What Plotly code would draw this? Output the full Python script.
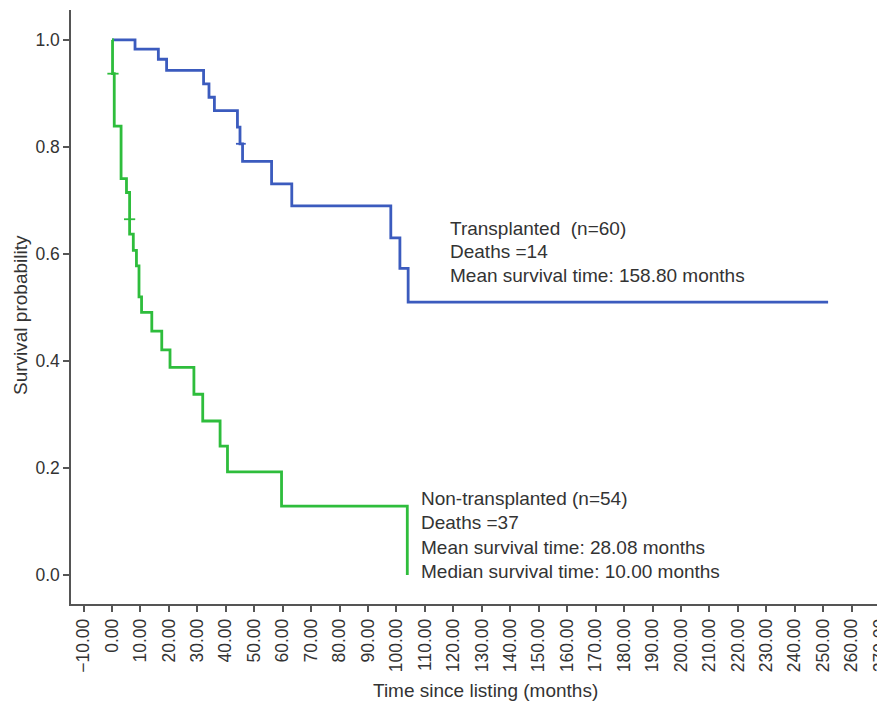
import plotly.graph_objects as go

# ---- data ----
tx_time = [0, 8.1, 16.3, 19.2, 32.2, 34.1, 36.0, 44.1, 45.0, 45.9, 56.1, 63.2, 98.0, 101.2, 104.1, 251.7]
tx_surv = [1.0, 0.983, 0.964, 0.943, 0.918, 0.893, 0.868, 0.837, 0.806, 0.773, 0.731, 0.690, 0.630, 0.573, 0.510, 0.510]
tx_cens_time = [45.3]
tx_cens_surv = [0.806]

ntx_time = [0, 0.2, 0.8, 3.2, 5.1, 6.2, 7.5, 8.6, 9.5, 10.4, 14.0, 17.5, 20.4, 28.8, 31.9, 38.0, 40.6, 59.6, 103.8]
ntx_surv = [1.0, 0.937, 0.839, 0.741, 0.715, 0.637, 0.607, 0.578, 0.520, 0.491, 0.456, 0.421, 0.388, 0.338, 0.288, 0.241, 0.193, 0.129, 0.0]
ntx_cens_time = [0.35, 6.2]
ntx_cens_surv = [0.937, 0.665]

x_tick_vals = list(range(-10, 280, 10))
x_tick_text = [("\u2212" if v < 0 else "") + f"{abs(v):.2f}" for v in x_tick_vals]
y_tick_vals = [0.0, 0.2, 0.4, 0.6, 0.8, 1.0]
y_tick_text = ["0.0", "0.2", "0.4", "0.6", "0.8", "1.0"]

tx_text = ["Transplanted  (n=60)", "Deaths =14", "Mean survival time: 158.80 months"]
ntx_text = ["Non-transplanted (n=54)", "Deaths =37", "Mean survival time: 28.08 months",
            "Median survival time: 10.00 months"]

BLUE = "#3B5BBE"
GREEN = "#2EBD3C"
TXT = "#333333"
FONT = "Liberation Sans, Arial, sans-serif"
ANN_SIZE = 19
TICK_SIZE = 17.5

fig = go.Figure()
fig.add_trace(go.Scatter(x=tx_time, y=tx_surv, mode="lines", line=dict(color=BLUE, width=2.8, shape="hv"),
                         showlegend=False, hoverinfo="skip"))
fig.add_trace(go.Scatter(x=ntx_time, y=ntx_surv, mode="lines", line=dict(color=GREEN, width=2.8, shape="hv"),
                         showlegend=False, hoverinfo="skip"))
fig.add_trace(go.Scatter(x=tx_cens_time, y=tx_cens_surv, mode="markers",
                         marker=dict(symbol="line-ew", size=7, line=dict(color=BLUE, width=1.8)),
                         showlegend=False, hoverinfo="skip"))
fig.add_trace(go.Scatter(x=ntx_cens_time, y=ntx_cens_surv, mode="markers",
                         marker=dict(symbol="line-ew", size=8, line=dict(color=GREEN, width=1.8)),
                         showlegend=False, hoverinfo="skip"))

ann = []
tx_y = [0.647, 0.604, 0.559]
for t, yy in zip(tx_text, tx_y):
    ann.append(dict(x=118.0, y=yy, xref="x", yref="y", text=t, showarrow=False, xanchor="left",
                    yanchor="middle", font=dict(size=ANN_SIZE, color=TXT, family=FONT)))
ntx_y = [0.144, 0.099, 0.052, 0.0075]
for t, yy in zip(ntx_text, ntx_y):
    ann.append(dict(x=108.0, y=yy, xref="x", yref="y", text=t, showarrow=False, xanchor="left",
                    yanchor="middle", font=dict(size=ANN_SIZE, color=TXT, family=FONT)))
ann.append(dict(x=0.5086, y=-0.1448, xref="paper", yref="paper", text="Time since listing (months)",
                showarrow=False, xanchor="center", yanchor="middle",
                font=dict(size=ANN_SIZE, color=TXT, family=FONT)))
ann.append(dict(x=-0.0627, y=0.4865, xref="paper", yref="paper", text="Survival probability", textangle=-90,
                showarrow=False, xanchor="center", yanchor="middle",
                font=dict(size=ANN_SIZE, color=TXT, family=FONT)))

fig.update_layout(
    width=877, height=697,
    margin=dict(l=63, r=0, t=2, b=101, autoexpand=False),
    paper_bgcolor="white", plot_bgcolor="white",
    annotations=ann,
    xaxis=dict(range=[-14.4, 271.7], tickmode="array", tickvals=x_tick_vals, ticktext=x_tick_text,
               tickangle=-90, ticks="outside", ticklen=6, tickwidth=1.5, tickcolor="#555",
               ticklabeloverflow="allow", automargin=False,
               showline=True, linecolor="#555", linewidth=1.5, showgrid=False, zeroline=False,
               tickfont=dict(size=TICK_SIZE, color=TXT, family=FONT)),
    yaxis=dict(range=[-0.054, 1.056], tickmode="array", tickvals=y_tick_vals, ticktext=y_tick_text,
               ticks="outside", ticklen=6, tickwidth=1.5, tickcolor="#555", automargin=False,
               showline=True, linecolor="#555", linewidth=1.5, showgrid=False, zeroline=False,
               tickfont=dict(size=TICK_SIZE, color=TXT, family=FONT)),
)

fig.write_html("out.html")
